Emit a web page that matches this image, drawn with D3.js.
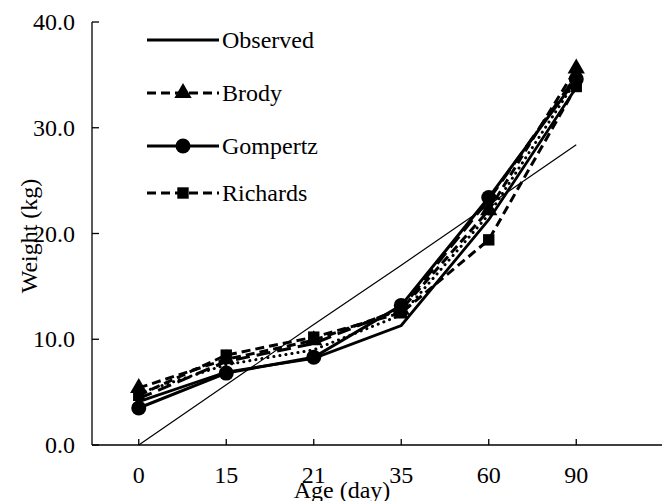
<!DOCTYPE html>
<html>
<head>
<meta charset="utf-8">
<script src="https://cdn.jsdelivr.net/npm/d3@7"></script>
<style>
  body { margin: 0; background: #fff; }
</style>
</head>
<body>
<svg id="chart"></svg>
<script>
// categories (age, days) and series values (weight, kg)
var ages = ["0", "15", "21", "35", "60", "90"];
var observed = [4.1, 6.9, 8.2, 11.3, 21.3, 33.8];
var brody = [5.4, 8.1, 9.9, 12.8, 22.2, 35.6];
var gompertz = [3.5, 6.8, 8.3, 13.2, 23.4, 34.6];
var richards = [4.7, 8.5, 10.2, 12.5, 19.4, 33.9];
var dotted = [4.9, 7.6, 9.0, 12.3, 21.8, 34.5];
var longDash = [4.4, 7.9, 9.6, 12.9, 23.2, 34.9];
var trend = [0.0, 5.7, 11.4, 17.0, 22.7, 28.4];
var yTicks = [0, 10, 20, 30, 40];

var serif = 'Liberation Serif';

function drawChart(svgname) {

   var width = 665,
       height = 501;

   var svg = d3.select('#' + svgname)
       .attr('width', width)
       .attr('height', height);

   var x = d3.scaleBand()
       .domain(ages)
       .range([95, 620]);

   var y = d3.scaleLinear()
       .domain([0, 40])
       .range([445, 22]);

   var cx = function(d, i) { return x(ages[i]) + x.bandwidth() / 2 };

   // y axis
   svg.append('line')
      .attr('x1', 92).attr('x2', 92)
      .attr('y1', y(40)).attr('y2', y(0))
      .attr('stroke', '#000').attr('stroke-width', 1.3);

   svg.selectAll('.ytick')
      .data(yTicks)
      .enter().append('line')
      .attr('x1', 92).attr('x2', 99)
      .attr('y1', function(d) { return y(d) })
      .attr('y2', function(d) { return y(d) })
      .attr('stroke', '#000').attr('stroke-width', 1.3);

   svg.selectAll('.ylab')
      .data(yTicks)
      .enter().append('text')
      .attr('x', 75)
      .attr('y', function(d) { return y(d) + 8 })
      .attr('text-anchor', 'end')
      .attr('font-family', serif)
      .attr('font-size', 24)
      .text(function(d) { return d.toFixed(1) });

   // x axis
   svg.append('line')
      .attr('x1', 92).attr('x2', 662)
      .attr('y1', y(0)).attr('y2', y(0))
      .attr('stroke', '#000').attr('stroke-width', 1.3);

   svg.selectAll('.xtick')
      .data(ages)
      .enter().append('line')
      .attr('x1', function(d) { return x(d) + x.bandwidth() / 2 })
      .attr('x2', function(d) { return x(d) + x.bandwidth() / 2 })
      .attr('y1', y(0)).attr('y2', y(0) - 6)
      .attr('stroke', '#000').attr('stroke-width', 1.3);

   svg.selectAll('.xlab')
      .data(ages)
      .enter().append('text')
      .attr('x', function(d) { return x(d) + x.bandwidth() / 2 })
      .attr('y', 483)
      .attr('text-anchor', 'middle')
      .attr('font-family', serif)
      .attr('font-size', 24)
      .text(function(d) { return d });

   svg.append('text')
      .attr('x', 342)
      .attr('y', 498)
      .attr('text-anchor', 'middle')
      .attr('font-family', serif)
      .attr('font-size', 24)
      .text('Age (day)');

   svg.append('text')
      .attr('transform', 'translate(37,236) rotate(-90)')
      .attr('text-anchor', 'middle')
      .attr('font-family', serif)
      .attr('font-size', 24)
      .text('Weight (kg)');

   var line = d3.line()
       .x(cx)
       .y(function(d) { return y(d) });

   function addLine(data, w, dash, cap) {
      svg.append('path')
         .datum(data)
         .attr('d', line)
         .attr('fill', 'none')
         .attr('stroke', '#000')
         .attr('stroke-width', w)
         .attr('stroke-linecap', cap || 'butt')
         .attr('stroke-dasharray', dash || null);
   }

   addLine(trend, 1.2);
   addLine(longDash, 3, '14,7');
   addLine(dotted, 3, '0.1,6', 'round');
   addLine(observed, 2.8);
   addLine(richards, 3, '9,5');
   addLine(brody, 3, '9,5');
   addLine(gompertz, 3);

   var tri = d3.symbol().type(d3.symbolTriangle).size(130);
   var sq = d3.symbol().type(d3.symbolSquare).size(130);

   svg.selectAll('.mk-b')
      .data(brody)
      .enter().append('path')
      .attr('d', tri)
      .attr('transform', function(d, i) { return 'translate(' + cx(d, i) + ',' + y(d) + ')' });

   svg.selectAll('.mk-r')
      .data(richards)
      .enter().append('path')
      .attr('d', sq)
      .attr('transform', function(d, i) { return 'translate(' + cx(d, i) + ',' + y(d) + ')' });

   svg.selectAll('.mk-g')
      .data(gompertz)
      .enter().append('circle')
      .attr('cx', cx)
      .attr('cy', function(d) { return y(d) })
      .attr('r', 7.5);

   // legend
   var legend = [
      { name: 'Observed', dash: null, mark: null },
      { name: 'Brody', dash: '9,5', mark: 'tri' },
      { name: 'Gompertz', dash: null, mark: 'circle' },
      { name: 'Richards', dash: '9,5', mark: 'sq' }
   ];

   var lg = svg.selectAll('.lg')
      .data(legend)
      .enter().append('g')
      .attr('transform', function(d, i) { return 'translate(0,' + [40, 93, 146, 193][i] + ')' });

   lg.append('line')
      .attr('x1', 147).attr('x2', 219)
      .attr('stroke', '#000')
      .attr('stroke-width', 3)
      .attr('stroke-dasharray', function(d) { return d.dash });

   lg.filter(function(d) { return d.mark == 'tri' })
      .append('path').attr('d', tri).attr('transform', 'translate(183,0)');
   lg.filter(function(d) { return d.mark == 'sq' })
      .append('path').attr('d', sq).attr('transform', 'translate(183,0)');
   lg.filter(function(d) { return d.mark == 'circle' })
      .append('circle').attr('cx', 183).attr('r', 7.5);

   lg.append('text')
      .attr('x', 222)
      .attr('y', 8)
      .attr('font-family', serif)
      .attr('font-size', 24)
      .text(function(d) { return d.name });
}

drawChart('chart');
</script>
</body>
</html>
